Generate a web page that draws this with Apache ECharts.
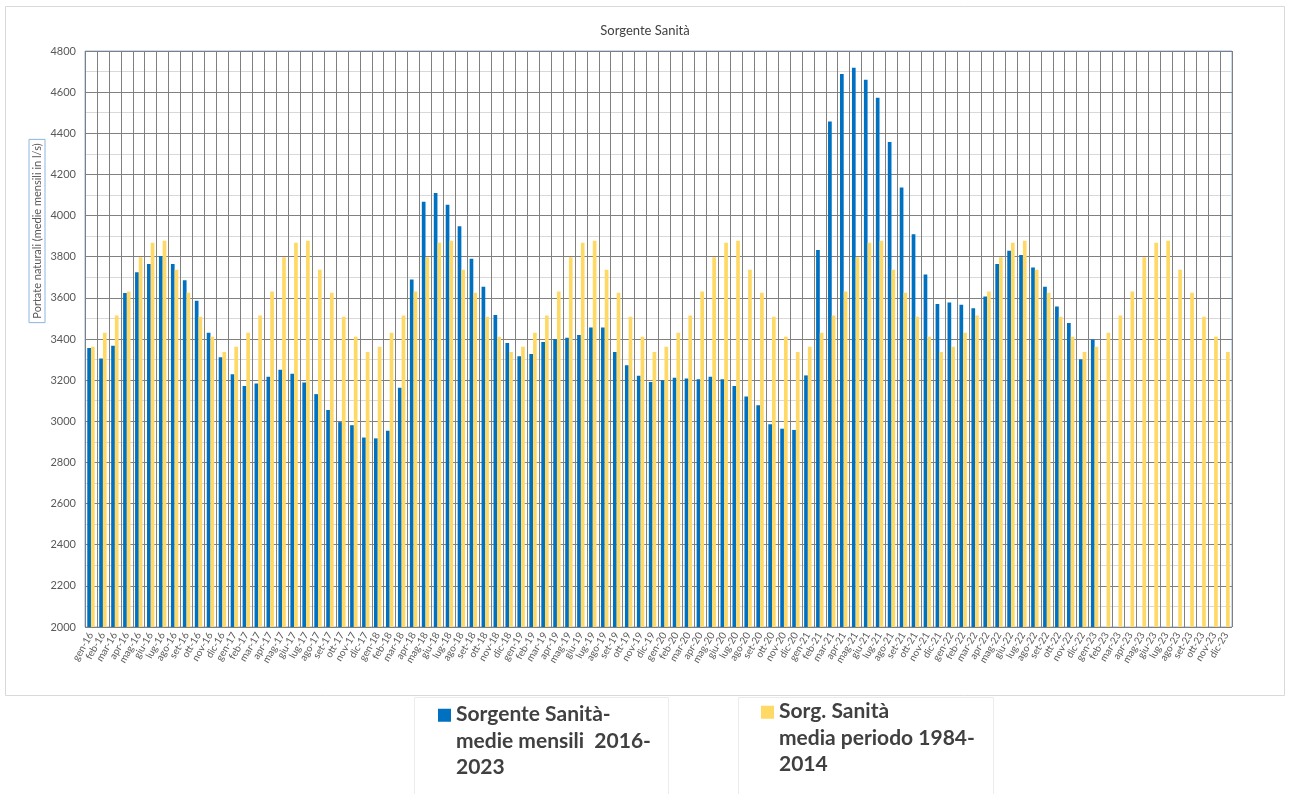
<!DOCTYPE html>
<html>
<head>
<meta charset="utf-8">
<script src="https://cdn.jsdelivr.net/npm/echarts@6/dist/echarts.min.js"></script>
<style>
html,body{margin:0;padding:0;background:#fff;}
#chart{width:1290px;height:794px;}
</style>
</head>
<body>
<div id="chart"></div>
<script>
var months = ['gen','feb','mar','apr','mag','giu','lug','ago','set','ott','nov','dic'];
var years = ['16','17','18','19','20','21','22','23'];

var seriesNames = [
  'Sorgente Sanità-\nmedie mensili  2016-\n2023',
  'Sorg. Sanità\nmedia periodo 1984-\n2014'
];

// Sorgente Sanità - medie mensili 2016-2023 (l/s), gen-16 .. gen-23
var monthly2016_2023 = [
  3356, 3305, 3367, 3624, 3724, 3765, 3803, 3765, 3685, 3586, 3430, 3311,
  3229, 3171, 3184, 3217, 3251, 3231, 3189, 3132, 3055, 2996, 2981, 2921,
  2917, 2954, 3163, 3689, 4067, 4110, 4052, 3948, 3790, 3654, 3517, 3381,
  3316, 3327, 3385, 3400, 3406, 3419, 3456, 3456, 3337, 3273, 3221, 3191,
  3199, 3212, 3208, 3204, 3216, 3204, 3171, 3120, 3078, 2986, 2964, 2958,
  3223, 3833, 4457, 4688, 4718, 4660, 4573, 4358, 4136, 3909, 3713, 3570,
  3577, 3566, 3549, 3607, 3765, 3829, 3808, 3747, 3654, 3558, 3478, 3301,
  3398
];

// Sorg. Sanità - media periodo 1984-2014 (l/s), shown for every month gen-16 .. dic-23
var mean1984_2014 = [
  3362, 3430, 3514, 3631, 3797, 3868, 3877, 3737, 3625, 3508, 3411, 3337,
  3362, 3430, 3514, 3631, 3797, 3868, 3877, 3737, 3625, 3508, 3411, 3337,
  3362, 3430, 3514, 3631, 3797, 3868, 3877, 3737, 3625, 3508, 3411, 3337,
  3362, 3430, 3514, 3631, 3797, 3868, 3877, 3737, 3625, 3508, 3411, 3337,
  3362, 3430, 3514, 3631, 3797, 3868, 3877, 3737, 3625, 3508, 3411, 3337,
  3362, 3430, 3514, 3631, 3797, 3868, 3877, 3737, 3625, 3508, 3411, 3337,
  3362, 3430, 3514, 3631, 3797, 3868, 3877, 3737, 3625, 3508, 3411, 3337,
  3362, 3430, 3514, 3631, 3797, 3868, 3877, 3737, 3625, 3508, 3411, 3337
];

var categories = [];
years.forEach(function (y) { months.forEach(function (m) { categories.push(m + '-' + y); }); });

var FONT = 'Lato, "Open Sans", sans-serif';
var chart = echarts.init(document.getElementById('chart'), null, {renderer: 'canvas'});

// legend icon: small square aligned with the first of three text lines
var legendIcon = 'path://M0,7.75L13,7.75L13,20.75L0,20.75Z M0,0L0.01,0L0.01,0.01Z M0,79.5L0.01,79.5L0.01,79.51Z';
var legendText = {fontSize: 21, fontWeight: 'bold', color: '#404040', fontFamily: FONT, lineHeight: 26.5};

chart.setOption({
  animation: false,
  backgroundColor: '#ffffff',
  title: {
    text: 'Sorgente Sanità',
    left: 'center',
    top: 19,
    textStyle: {fontSize: 13, fontWeight: 'normal', color: '#404040', fontFamily: FONT}
  },
  legend: [
    {
      data: [seriesNames[0]],
      left: 438, top: 701, padding: 0,
      itemWidth: 13, itemHeight: 79.5, itemGap: 0,
      icon: legendIcon,
      textStyle: legendText
    },
    {
      data: [seriesNames[1]],
      left: 761, top: 698, padding: 0,
      itemWidth: 13, itemHeight: 79.5, itemGap: 0,
      icon: legendIcon,
      textStyle: legendText
    }
  ],
  grid: {
    left: 85, right: 58, top: 51, bottom: 167,
    show: true, borderColor: '#8db4e2', borderWidth: 1,
    containLabel: false
  },
  xAxis: {
    type: 'category',
    data: categories,
    boundaryGap: true,
    axisTick: {show: false},
    axisLine: {show: false},
    axisLabel: {interval: 0, rotate: 60, fontSize: 10, color: '#595959', fontFamily: FONT, margin: 6},
    splitLine: {show: true, interval: 0, lineStyle: {color: '#808080', width: 1}}
  },
  yAxis: {
    type: 'value',
    min: 2000, max: 4800, interval: 200,
    axisLine: {show: false},
    axisTick: {show: false},
    axisLabel: {fontSize: 11, color: '#595959', fontFamily: FONT, margin: 9,
      formatter: function (v) { return String(v); }},
    splitLine: {show: true, lineStyle: {color: '#808080', width: 1}},
    minorTick: {show: false, splitNumber: 2},
    minorSplitLine: {show: true, lineStyle: {color: '#d9d9d9', width: 1}}
  },
  series: [
    {
      name: seriesNames[0],
      type: 'bar',
      data: monthly2016_2023,
      barWidth: 3.7,
      barGap: '0%',
      itemStyle: {color: '#0070C0'}
    },
    {
      name: seriesNames[1],
      type: 'bar',
      data: mean1984_2014,
      barWidth: 3.7,
      barGap: '0%',
      itemStyle: {color: '#FFD966'}
    }
  ],
  graphic: [
    {type: 'rect', shape: {x: 5.5, y: 6.5, width: 1279, height: 689}, style: {fill: 'none', stroke: '#d9d9d9', lineWidth: 1}, silent: true, z: -1},
    {type: 'rect', shape: {x: 414.5, y: 697.5, width: 254, height: 100}, style: {fill: 'none', stroke: '#ececec', lineWidth: 1}, silent: true, z: -1},
    {type: 'rect', shape: {x: 738.5, y: 697.5, width: 255, height: 100}, style: {fill: 'none', stroke: '#ececec', lineWidth: 1}, silent: true, z: -1},
    {
      type: 'text',
      x: 37, y: 231,
      rotation: Math.PI / 2,
      style: {
        text: 'Portate naturali (medie mensili in l/s)',
        fontSize: 11, fill: '#595959', fontFamily: FONT,
        align: 'center', verticalAlign: 'middle',
        borderColor: '#8db4e2', borderWidth: 1,
        padding: [3, 4, 2, 4]
      }
    }
  ]
});
</script>
</body>
</html>
